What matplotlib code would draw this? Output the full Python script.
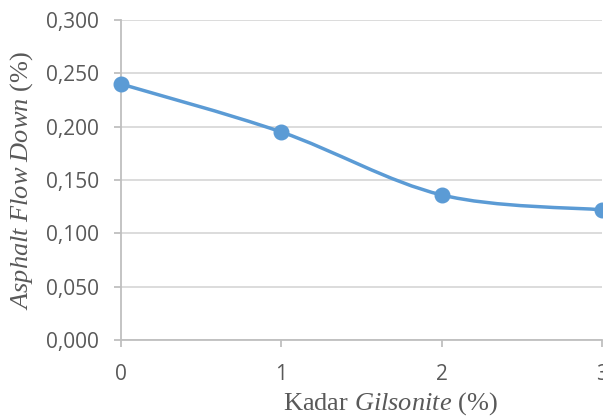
import matplotlib
matplotlib.use("Agg")
import matplotlib.pyplot as plt
from matplotlib.path import Path
from matplotlib.patches import PathPatch
from matplotlib.ticker import FuncFormatter

# Data
gilsonite = [0, 1, 2, 3]
flow_down = [0.240, 0.195, 0.136, 0.122]
y_ticks = [0.000, 0.050, 0.100, 0.150, 0.200, 0.250, 0.300]
x_ticks = [0, 1, 2, 3]

LINE = "#5B9BD5"
TXT = "#595959"
GRID = "#D9D9D9"
AXIS = "#BFBFBF"

plt.rcParams["mathtext.fontset"] = "custom"
plt.rcParams["mathtext.rm"] = "Liberation Serif"
plt.rcParams["mathtext.it"] = "Liberation Serif:italic"

W, H = 603, 416
fig = plt.figure(figsize=(W / 100, H / 100), dpi=100)
ax = fig.add_axes([121 / W, (H - 340) / H, (602 - 121) / W, 320 / H])

# Smoothed line through the points (cubic Bezier, Catmull-Rom style tangents)
pts = list(zip(gilsonite, flow_down))
verts = [pts[0]]
codes = [Path.MOVETO]
n = len(pts)
for i in range(n - 1):
    p0 = pts[i - 1] if i > 0 else pts[i]
    p1 = pts[i]
    p2 = pts[i + 1]
    p3 = pts[i + 2] if i + 2 < n else pts[i + 1]
    c1 = (p1[0] + (p2[0] - p0[0]) / 6, p1[1] + (p2[1] - p0[1]) / 6)
    c2 = (p2[0] - (p3[0] - p1[0]) / 6, p2[1] - (p3[1] - p1[1]) / 6)
    verts += [c1, c2, p2]
    codes += [Path.CURVE4] * 3
ax.add_patch(PathPatch(Path(verts, codes), facecolor="none", edgecolor=LINE,
                       lw=2.5, capstyle="round", zorder=3, clip_on=False))
ax.plot(gilsonite, flow_down, linestyle="none", marker="o", markersize=10.5,
        color=LINE, zorder=4, clip_on=False)

ax.set_xlim(0, 3)
ax.set_ylim(0, 0.300)
ax.set_xticks(x_ticks)
ax.set_yticks(y_ticks)
ax.yaxis.set_major_formatter(FuncFormatter(lambda v, p: f"{v:.3f}".replace(".", ",")))

ax.grid(axis="y", color=GRID, lw=1.3)
ax.set_axisbelow(True)
for s in ["top", "right"]:
    ax.spines[s].set_visible(False)
for s in ["left", "bottom"]:
    ax.spines[s].set_color(AXIS)
    ax.spines[s].set_linewidth(1.3)
ax.tick_params(axis="both", colors=AXIS, width=1.3, length=5, direction="out",
               labelcolor=TXT, labelsize=15)
ax.tick_params(axis="y", pad=11)
ax.tick_params(axis="x", pad=12)
for lab in ax.get_xticklabels() + ax.get_yticklabels():
    lab.set_fontfamily("Open Sans")

fig.text(390 / W, 1 - 404 / H, r"Kadar $\mathit{Gilsonite}$ (%)", ha="center",
         va="center", fontsize=19, color=TXT, family="Liberation Serif")
fig.text(22 / W, 1 - 181 / H, r"$\mathit{Asphalt\ Flow\ Down}$ (%)", ha="center",
         va="center", rotation=90, fontsize=19, color=TXT, family="Liberation Serif")

fig.savefig("out.png", dpi=100)
